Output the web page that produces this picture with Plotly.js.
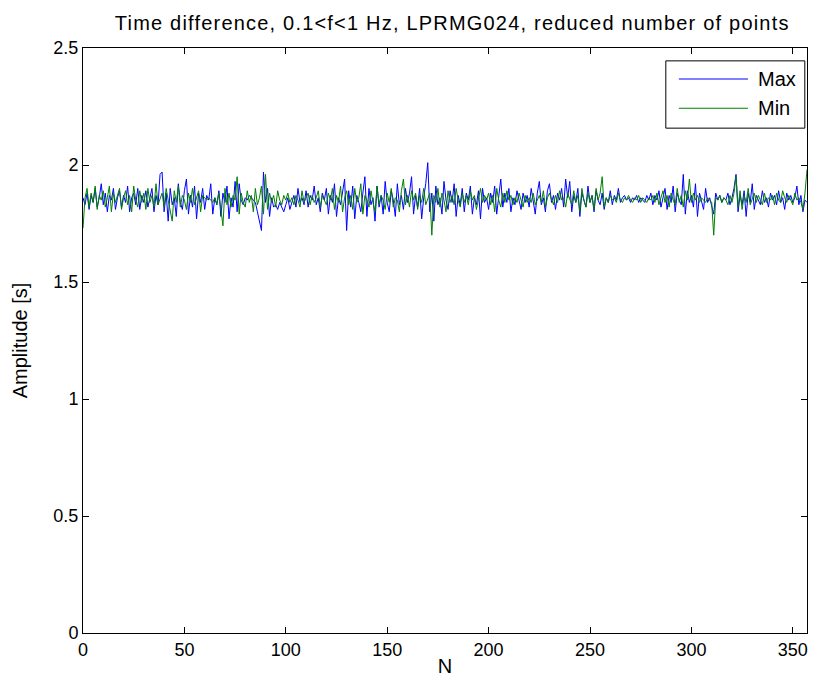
<!DOCTYPE html>
<html>
<head>
<meta charset="utf-8">
<script src="https://cdn.plot.ly/plotly-3.0.1.min.js"></script>
<style>
html,body{margin:0;padding:0;background:#fff;}
#chart{width:831px;height:687px;}
.gtitle{letter-spacing:1.2px;}
</style>
</head>
<body>
<div id="chart"></div>
<script>
const chartTitle = "Time difference, 0.1<f<1 Hz, LPRMG024, reduced number of points";
const xLabel = "N";
const yLabel = "Amplitude [s]";
const seriesNames = ["Max", "Min"];
const seriesColors = ["#0000ff", "#008000"];
const xTicks = [0, 50, 100, 150, 200, 250, 300, 350];
const yTicks = [0, 0.5, 1, 1.5, 2, 2.5];
const yTickText = ["0", "0.5", "1", "1.5", "2", "2.5"];

const maxValues = [
1.86,1.83,1.88,1.81,1.87,1.84,1.90,1.82,1.86,1.92,
1.83,1.88,1.80,1.87,1.85,1.90,1.81,1.86,1.89,1.82,
1.87,1.84,1.91,1.80,1.86,1.88,1.83,1.90,1.81,1.87,
1.84,1.89,1.82,1.86,1.90,1.80,1.87,1.83,1.96,1.97,
1.80,1.88,1.76,1.90,1.83,1.86,1.78,1.92,1.84,1.81,
1.89,1.94,1.79,1.87,1.82,1.91,1.77,1.88,1.84,1.90,
1.81,1.87,1.85,1.92,1.79,1.86,1.83,1.89,1.78,1.88,
1.84,1.91,1.77,1.86,1.82,1.93,1.80,1.92,1.85,1.83,
1.86,1.85,1.87,1.86,1.85,1.84,1.80,1.76,1.72,1.97,
1.84,1.90,1.78,1.86,1.82,1.83,1.81,1.84,1.82,1.80,
1.83,1.86,1.81,1.84,1.87,1.82,1.90,1.84,1.86,1.83,
1.89,1.82,1.87,1.85,1.91,1.83,1.86,1.80,1.88,1.85,
1.90,1.79,1.87,1.84,1.92,1.78,1.86,1.83,1.88,1.94,
1.72,1.89,1.82,1.91,1.77,1.87,1.84,1.80,1.88,1.95,
1.78,1.90,1.83,1.86,1.76,1.91,1.82,1.87,1.79,1.93,
1.84,1.80,1.89,1.85,1.78,1.92,1.83,1.87,1.81,1.90,
1.84,1.88,1.95,1.79,1.87,1.82,1.90,1.77,1.86,1.92,
2.01,1.80,1.88,1.76,1.91,1.83,1.86,1.79,1.93,1.85,
1.81,1.89,1.84,1.92,1.78,1.87,1.83,1.90,1.80,1.88,
1.85,1.91,1.79,1.86,1.83,1.89,1.77,1.90,1.84,1.86,
1.81,1.88,1.84,1.91,1.79,1.87,1.94,1.82,1.88,1.84,
1.90,1.80,1.86,1.83,1.89,1.85,1.81,1.88,1.84,1.87,
1.82,1.90,1.85,1.79,1.88,1.93,1.83,1.86,1.80,1.89,
1.92,1.84,1.87,1.81,1.88,1.85,1.90,1.82,1.94,1.86,
1.93,1.80,1.87,1.84,1.90,1.78,1.88,1.85,1.82,1.91,
1.84,1.87,1.80,1.89,1.85,1.83,1.88,1.81,1.86,1.84,
1.89,1.83,1.87,1.85,1.90,1.84,1.86,1.87,1.85,1.86,
1.84,1.86,1.85,1.87,1.84,1.86,1.85,1.84,1.87,1.85,
1.88,1.83,1.87,1.85,1.89,1.82,1.86,1.90,1.81,1.87,
1.84,1.91,1.80,1.88,1.85,1.83,1.96,1.79,1.89,1.84,
1.87,1.82,1.92,1.78,1.88,1.85,1.81,1.90,1.84,1.86,
1.83,1.79,1.88,1.85,1.87,1.84,1.86,1.85,1.88,1.83,
1.86,1.90,1.96,1.80,1.87,1.83,1.89,1.78,1.88,1.84,
1.92,1.81,1.87,1.85,1.83,1.89,1.84,1.86,1.82,1.88,
1.85,1.87,1.83,1.89,1.84,1.86,1.81,1.88,1.85,1.87,
1.84,1.86,1.91,1.83,1.87,1.80,1.85,1.84
];

const minValues = [
1.73,1.86,1.90,1.82,1.88,1.84,1.91,1.81,1.87,1.85,
1.89,1.82,1.86,1.91,1.80,1.88,1.84,1.87,1.90,1.81,
1.86,1.89,1.83,1.87,1.80,1.91,1.85,1.82,1.89,1.84,
1.88,1.81,1.90,1.84,1.87,1.82,1.92,1.83,1.86,1.88,
1.82,1.90,1.85,1.80,1.76,1.89,1.84,1.91,1.82,1.87,
1.85,1.81,1.88,1.84,1.90,1.83,1.86,1.89,1.80,1.87,
1.86,1.85,1.86,1.85,1.84,1.86,1.83,1.88,1.81,1.74,
1.90,1.83,1.88,1.82,1.87,1.85,1.95,1.79,1.88,1.84,
1.82,1.89,1.84,1.87,1.80,1.90,1.83,1.86,1.91,1.79,
1.96,1.81,1.88,1.84,1.87,1.82,1.89,1.85,1.83,1.87,
1.85,1.88,1.84,1.86,1.83,1.87,1.85,1.82,1.89,1.84,
1.86,1.88,1.83,1.87,1.84,1.86,1.89,1.82,1.87,1.85,
1.83,1.88,1.85,1.90,1.81,1.87,1.84,1.91,1.80,1.86,
1.89,1.83,1.87,1.81,1.90,1.84,1.86,1.92,1.79,1.87,
1.85,1.82,1.89,1.84,1.80,1.91,1.83,1.87,1.85,1.81,
1.88,1.84,1.90,1.82,1.86,1.85,1.80,1.89,1.94,1.83,
1.87,1.82,1.89,1.85,1.88,1.81,1.87,1.84,1.90,1.83,
1.86,1.88,1.70,1.87,1.84,1.90,1.82,1.88,1.85,1.80,
1.89,1.84,1.87,1.83,1.90,1.85,1.82,1.88,1.84,1.87,
1.83,1.89,1.85,1.87,1.81,1.86,1.90,1.84,1.87,1.85,
1.88,1.83,1.87,1.80,1.90,1.85,1.82,1.88,1.84,1.89,
1.85,1.87,1.83,1.86,1.84,1.88,1.85,1.82,1.87,1.84,
1.86,1.84,1.88,1.83,1.85,1.87,1.84,1.89,1.82,1.86,
1.88,1.85,1.83,1.87,1.84,1.89,1.85,1.86,1.82,1.88,
1.85,1.83,1.89,1.84,1.87,1.80,1.90,1.85,1.82,1.88,
1.84,1.87,1.81,1.90,1.85,1.88,1.95,1.82,1.86,1.84,
1.87,1.85,1.86,1.84,1.88,1.85,1.84,1.86,1.85,1.87,
1.85,1.84,1.86,1.85,1.87,1.84,1.86,1.85,1.84,1.86,
1.85,1.87,1.84,1.88,1.83,1.86,1.89,1.84,1.87,1.82,
1.88,1.85,1.83,1.90,1.84,1.87,1.82,1.89,1.85,1.94,
1.84,1.88,1.85,1.87,1.84,1.86,1.85,1.84,1.86,1.85,
1.84,1.70,1.86,1.85,1.87,1.84,1.86,1.85,1.83,1.87,
1.84,1.88,1.95,1.82,1.89,1.81,1.87,1.84,1.90,1.83,
1.86,1.88,1.84,1.87,1.85,1.83,1.88,1.84,1.86,1.85,
1.87,1.83,1.88,1.85,1.84,1.89,1.86,1.84,1.87,1.85,
1.83,1.88,1.85,1.86,1.84,1.81,1.88,1.98
];

const xMax = maxValues.length - 1;
const xs = maxValues.map((_, i) => i);
const fam = "Liberation Sans, Arial, sans-serif";

const traces = [
  {x: xs, y: maxValues, name: seriesNames[0], type: "scatter", mode: "lines",
   line: {color: seriesColors[0], width: 1}, showlegend: false},
  {x: xs, y: minValues, name: seriesNames[1], type: "scatter", mode: "lines",
   line: {color: seriesColors[1], width: 1}, showlegend: false}
];

const axisCommon = {
  showline: true, linecolor: "#000", linewidth: 1, mirror: "ticks",
  ticks: "inside", ticklen: 6, tickcolor: "#000", tickwidth: 1,
  showgrid: false, zeroline: false, automargin: false,
  tickfont: {family: fam, size: 18, color: "#000"}
};

// legend box (MATLAB-style), drawn in paper coordinates
const legBox = {x0: 0.805, x1: 0.997, y0: 0.863, y1: 0.978};
const legLineX = [0.823, 0.9185];
const legTextX = 0.9296;
const legRowY = [0.947, 0.897];

const shapes = [
  {type: "rect", xref: "paper", yref: "paper", x0: legBox.x0, x1: legBox.x1, y0: legBox.y0, y1: legBox.y1,
   line: {color: "#000", width: 1}, fillcolor: "#fff", layer: "above"}
];
const annotations = [];
seriesNames.forEach((nm, i) => {
  shapes.push({type: "line", xref: "paper", yref: "paper", x0: legLineX[0], x1: legLineX[1],
    y0: legRowY[i], y1: legRowY[i], line: {color: seriesColors[i], width: 1}, layer: "above"});
  annotations.push({xref: "paper", yref: "paper", x: legTextX, y: legRowY[i], xanchor: "left", yanchor: "middle",
    text: nm, showarrow: false, font: {family: fam, size: 20, color: "#000"}});
});

const layout = {
  width: 831, height: 687,
  paper_bgcolor: "#fff", plot_bgcolor: "#fff",
  margin: {l: 83, r: 24, t: 48, b: 54},
  title: {text: chartTitle, font: {family: fam, size: 20, color: "#000"},
          x: 0.51, xref: "paper", xanchor: "center", y: 0.966, yref: "container", yanchor: "middle"},
  xaxis: Object.assign({}, axisCommon, {
    range: [0, xMax], tickvals: xTicks, ticktext: xTicks.map(String),
    title: {text: xLabel, font: {family: fam, size: 20, color: "#000"}, standoff: 0}
  }),
  yaxis: Object.assign({}, axisCommon, {
    range: [0, 2.5], tickvals: yTicks, ticktext: yTickText,
    title: {text: yLabel, font: {family: fam, size: 20, color: "#000"}, standoff: 20}
  }),
  showlegend: false,
  shapes: shapes,
  annotations: annotations
};

Plotly.newPlot("chart", traces, layout, {staticPlot: true, displayModeBar: false});
</script>
</body>
</html>
